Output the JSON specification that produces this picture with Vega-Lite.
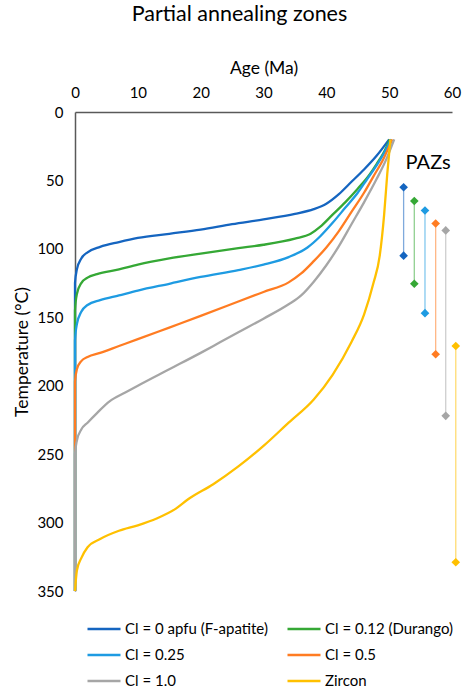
{
  "$schema": "https://vega.github.io/schema/vega-lite/v6.json",
  "width": 377,
  "height": 479,
  "autosize": {"type": "none"},
  "padding": {"left": 75, "top": 112, "right": 22, "bottom": 99},
  "title": {"text": "Partial annealing zones", "fontSize": 21.5, "font": "Lato", "fontWeight": "normal", "color": "#000000", "offset": 34, "anchor": "middle", "dx": -24},
  "config": {
    "view": {"stroke": null},
    "font": "Lato",
    "axis": {"grid": false, "ticks": false, "labelFlush": false, "domainColor": "#595959", "domainWidth": 1.5, "labelFont": "Lato", "titleFont": "Lato", "labelFontSize": 15, "titleFontSize": 17.5, "titleFontWeight": "normal", "labelColor": "#000000", "titleColor": "#000000", "labelPadding": 12},
    "legend": {"orient": "none", "legendX": 11, "legendY": 499, "columns": 2, "symbolType": "stroke", "symbolSize": 1089, "symbolStrokeWidth": 2.5, "symbolOpacity": 1, "labelFont": "Lato", "labelFontSize": 15, "labelColor": "#000000", "rowPadding": -6, "columnPadding": 14, "labelOffset": 3, "title": null}
  },
  "datasets": {
    "curves": [
      {"s": "Cl = 0 apfu (F-apatite)", "a": 0, "t": 350},
      {"s": "Cl = 0 apfu (F-apatite)", "a": 0, "t": 125},
      {"s": "Cl = 0 apfu (F-apatite)", "a": 0.3, "t": 115},
      {"s": "Cl = 0 apfu (F-apatite)", "a": 1, "t": 107},
      {"s": "Cl = 0 apfu (F-apatite)", "a": 2, "t": 102.5},
      {"s": "Cl = 0 apfu (F-apatite)", "a": 4, "t": 98.5},
      {"s": "Cl = 0 apfu (F-apatite)", "a": 7, "t": 95},
      {"s": "Cl = 0 apfu (F-apatite)", "a": 10, "t": 92},
      {"s": "Cl = 0 apfu (F-apatite)", "a": 15, "t": 89},
      {"s": "Cl = 0 apfu (F-apatite)", "a": 20, "t": 86},
      {"s": "Cl = 0 apfu (F-apatite)", "a": 25, "t": 82},
      {"s": "Cl = 0 apfu (F-apatite)", "a": 30, "t": 78.5},
      {"s": "Cl = 0 apfu (F-apatite)", "a": 35, "t": 74.5},
      {"s": "Cl = 0 apfu (F-apatite)", "a": 38, "t": 71},
      {"s": "Cl = 0 apfu (F-apatite)", "a": 40, "t": 67},
      {"s": "Cl = 0 apfu (F-apatite)", "a": 42, "t": 60},
      {"s": "Cl = 0 apfu (F-apatite)", "a": 44, "t": 51},
      {"s": "Cl = 0 apfu (F-apatite)", "a": 46, "t": 42},
      {"s": "Cl = 0 apfu (F-apatite)", "a": 48, "t": 32},
      {"s": "Cl = 0 apfu (F-apatite)", "a": 50, "t": 20},
      {"s": "Cl = 0.12 (Durango)", "a": 0, "t": 350},
      {"s": "Cl = 0.12 (Durango)", "a": 0, "t": 145},
      {"s": "Cl = 0.12 (Durango)", "a": 0.3, "t": 133},
      {"s": "Cl = 0.12 (Durango)", "a": 1, "t": 125},
      {"s": "Cl = 0.12 (Durango)", "a": 2, "t": 121},
      {"s": "Cl = 0.12 (Durango)", "a": 3.5, "t": 118.5},
      {"s": "Cl = 0.12 (Durango)", "a": 7, "t": 115},
      {"s": "Cl = 0.12 (Durango)", "a": 10, "t": 111.5},
      {"s": "Cl = 0.12 (Durango)", "a": 15, "t": 107},
      {"s": "Cl = 0.12 (Durango)", "a": 20, "t": 103.5},
      {"s": "Cl = 0.12 (Durango)", "a": 26, "t": 99.5},
      {"s": "Cl = 0.12 (Durango)", "a": 30, "t": 97},
      {"s": "Cl = 0.12 (Durango)", "a": 35, "t": 92.5},
      {"s": "Cl = 0.12 (Durango)", "a": 37.5, "t": 89},
      {"s": "Cl = 0.12 (Durango)", "a": 39, "t": 84},
      {"s": "Cl = 0.12 (Durango)", "a": 41, "t": 75},
      {"s": "Cl = 0.12 (Durango)", "a": 43, "t": 66},
      {"s": "Cl = 0.12 (Durango)", "a": 45, "t": 56},
      {"s": "Cl = 0.12 (Durango)", "a": 46.5, "t": 48},
      {"s": "Cl = 0.12 (Durango)", "a": 48, "t": 38},
      {"s": "Cl = 0.12 (Durango)", "a": 49.2, "t": 29},
      {"s": "Cl = 0.12 (Durango)", "a": 50.1, "t": 20},
      {"s": "Cl = 0.25", "a": 0, "t": 350},
      {"s": "Cl = 0.25", "a": 0, "t": 167},
      {"s": "Cl = 0.25", "a": 0.3, "t": 155},
      {"s": "Cl = 0.25", "a": 1, "t": 146},
      {"s": "Cl = 0.25", "a": 2, "t": 141},
      {"s": "Cl = 0.25", "a": 4, "t": 137.5},
      {"s": "Cl = 0.25", "a": 7, "t": 134},
      {"s": "Cl = 0.25", "a": 10, "t": 130.5},
      {"s": "Cl = 0.25", "a": 15, "t": 125.5},
      {"s": "Cl = 0.25", "a": 20, "t": 120.5},
      {"s": "Cl = 0.25", "a": 26, "t": 115.5},
      {"s": "Cl = 0.25", "a": 30, "t": 111.5},
      {"s": "Cl = 0.25", "a": 34, "t": 106},
      {"s": "Cl = 0.25", "a": 37, "t": 99},
      {"s": "Cl = 0.25", "a": 39, "t": 91},
      {"s": "Cl = 0.25", "a": 41, "t": 81},
      {"s": "Cl = 0.25", "a": 43, "t": 70},
      {"s": "Cl = 0.25", "a": 45, "t": 59},
      {"s": "Cl = 0.25", "a": 46.5, "t": 49},
      {"s": "Cl = 0.25", "a": 48, "t": 39},
      {"s": "Cl = 0.25", "a": 49.2, "t": 30},
      {"s": "Cl = 0.25", "a": 50.3, "t": 20},
      {"s": "Cl = 0.5", "a": 0, "t": 350},
      {"s": "Cl = 0.5", "a": 0, "t": 197},
      {"s": "Cl = 0.5", "a": 0.3, "t": 188},
      {"s": "Cl = 0.5", "a": 1, "t": 182},
      {"s": "Cl = 0.5", "a": 2, "t": 179},
      {"s": "Cl = 0.5", "a": 4, "t": 176},
      {"s": "Cl = 0.5", "a": 7, "t": 171},
      {"s": "Cl = 0.5", "a": 10, "t": 166},
      {"s": "Cl = 0.5", "a": 15, "t": 157.5},
      {"s": "Cl = 0.5", "a": 20, "t": 149},
      {"s": "Cl = 0.5", "a": 26, "t": 138.5},
      {"s": "Cl = 0.5", "a": 30, "t": 131.5},
      {"s": "Cl = 0.5", "a": 34, "t": 124.5},
      {"s": "Cl = 0.5", "a": 36, "t": 118},
      {"s": "Cl = 0.5", "a": 38, "t": 109},
      {"s": "Cl = 0.5", "a": 40, "t": 99},
      {"s": "Cl = 0.5", "a": 42, "t": 87},
      {"s": "Cl = 0.5", "a": 44, "t": 73},
      {"s": "Cl = 0.5", "a": 46, "t": 59},
      {"s": "Cl = 0.5", "a": 47.5, "t": 47},
      {"s": "Cl = 0.5", "a": 49, "t": 35},
      {"s": "Cl = 0.5", "a": 50.5, "t": 20},
      {"s": "Cl = 1.0", "a": 0, "t": 350},
      {"s": "Cl = 1.0", "a": 0, "t": 250},
      {"s": "Cl = 1.0", "a": 0.3, "t": 240},
      {"s": "Cl = 1.0", "a": 1, "t": 232},
      {"s": "Cl = 1.0", "a": 2, "t": 227},
      {"s": "Cl = 1.0", "a": 3.5, "t": 220},
      {"s": "Cl = 1.0", "a": 5.5, "t": 211.5},
      {"s": "Cl = 1.0", "a": 8, "t": 205},
      {"s": "Cl = 1.0", "a": 10, "t": 200},
      {"s": "Cl = 1.0", "a": 15, "t": 188},
      {"s": "Cl = 1.0", "a": 20, "t": 176},
      {"s": "Cl = 1.0", "a": 23, "t": 168.5},
      {"s": "Cl = 1.0", "a": 26, "t": 161},
      {"s": "Cl = 1.0", "a": 30, "t": 151},
      {"s": "Cl = 1.0", "a": 34, "t": 140.5},
      {"s": "Cl = 1.0", "a": 36, "t": 134},
      {"s": "Cl = 1.0", "a": 38, "t": 124},
      {"s": "Cl = 1.0", "a": 40, "t": 112},
      {"s": "Cl = 1.0", "a": 42, "t": 98},
      {"s": "Cl = 1.0", "a": 44, "t": 82},
      {"s": "Cl = 1.0", "a": 46, "t": 66},
      {"s": "Cl = 1.0", "a": 48, "t": 49},
      {"s": "Cl = 1.0", "a": 49.5, "t": 35},
      {"s": "Cl = 1.0", "a": 50.8, "t": 20},
      {"s": "Zircon", "a": 0, "t": 350},
      {"s": "Zircon", "a": 0.3, "t": 335},
      {"s": "Zircon", "a": 1, "t": 326},
      {"s": "Zircon", "a": 2, "t": 318},
      {"s": "Zircon", "a": 4, "t": 312},
      {"s": "Zircon", "a": 7, "t": 306},
      {"s": "Zircon", "a": 10, "t": 302},
      {"s": "Zircon", "a": 13, "t": 297},
      {"s": "Zircon", "a": 16, "t": 290},
      {"s": "Zircon", "a": 18, "t": 283},
      {"s": "Zircon", "a": 22, "t": 272},
      {"s": "Zircon", "a": 26, "t": 259},
      {"s": "Zircon", "a": 30, "t": 244},
      {"s": "Zircon", "a": 34, "t": 227},
      {"s": "Zircon", "a": 38, "t": 210},
      {"s": "Zircon", "a": 41, "t": 192},
      {"s": "Zircon", "a": 44, "t": 168},
      {"s": "Zircon", "a": 46, "t": 148},
      {"s": "Zircon", "a": 47.5, "t": 125},
      {"s": "Zircon", "a": 48.5, "t": 105},
      {"s": "Zircon", "a": 49.2, "t": 75},
      {"s": "Zircon", "a": 49.7, "t": 45},
      {"s": "Zircon", "a": 50.2, "t": 20}
    ],
    "paz": [
      {"s": "Cl = 0 apfu (F-apatite)", "a": 52.3, "top": 55, "bot": 105},
      {"s": "Cl = 0.12 (Durango)", "a": 54.0, "top": 65, "bot": 125.5},
      {"s": "Cl = 0.25", "a": 55.7, "top": 72, "bot": 147},
      {"s": "Cl = 0.5", "a": 57.4, "top": 81.5, "bot": 177},
      {"s": "Cl = 1.0", "a": 59.0, "top": 86.5, "bot": 222},
      {"s": "Zircon", "a": 60.6, "top": 171, "bot": 329}
    ]
  },
  "encoding": {
    "x": {"type": "quantitative", "scale": {"domain": [0, 60], "nice": false}, "axis": {"orient": "top", "title": "Age (Ma)", "values": [0, 10, 20, 30, 40, 50, 60], "titlePadding": 8}},
    "y": {"type": "quantitative", "scale": {"domain": [0, 350], "nice": false, "reverse": true}, "axis": {"title": "Temperature (°C)", "values": [0, 50, 100, 150, 200, 250, 300, 350], "titlePadding": 5}},
    "color": {"field": "s", "type": "nominal", "scale": {"domain": ["Cl = 0 apfu (F-apatite)", "Cl = 0.25", "Cl = 1.0", "Cl = 0.12 (Durango)", "Cl = 0.5", "Zircon"], "range": ["#1565C0", "#1E9BE2", "#A6A6A6", "#35A835", "#FF7C22", "#FFC000"]}}
  },
  "layer": [
    {
      "data": {"name": "paz"},
      "mark": {"type": "rule", "strokeWidth": 1.3, "opacity": 0.55},
      "encoding": {"x": {"field": "a"}, "y": {"field": "top"}, "y2": {"field": "bot"}}
    },
    {
      "data": {"name": "paz"},
      "mark": {"type": "point", "shape": "diamond", "filled": true, "opacity": 1, "size": 75},
      "encoding": {"x": {"field": "a"}, "y": {"field": "top"}}
    },
    {
      "data": {"name": "paz"},
      "mark": {"type": "point", "shape": "diamond", "filled": true, "opacity": 1, "size": 75},
      "encoding": {"x": {"field": "a"}, "y": {"field": "bot"}}
    },
    {
      "data": {"name": "curves"},
      "mark": {"type": "line", "interpolate": "monotone", "orient": "horizontal", "strokeWidth": 2.3},
      "encoding": {"x": {"field": "a"}, "y": {"field": "t"}, "order": {"field": "t", "type": "quantitative"}}
    },
    {
      "data": {"values": [{"label": "PAZs"}]},
      "mark": {"type": "text", "fontSize": 20, "font": "Lato", "color": "#000000", "align": "center", "baseline": "middle"},
      "encoding": {"text": {"field": "label"}, "x": {"datum": 56.2}, "y": {"datum": 37.5}, "color": {"value": "#000000"}}
    }
  ]
}
